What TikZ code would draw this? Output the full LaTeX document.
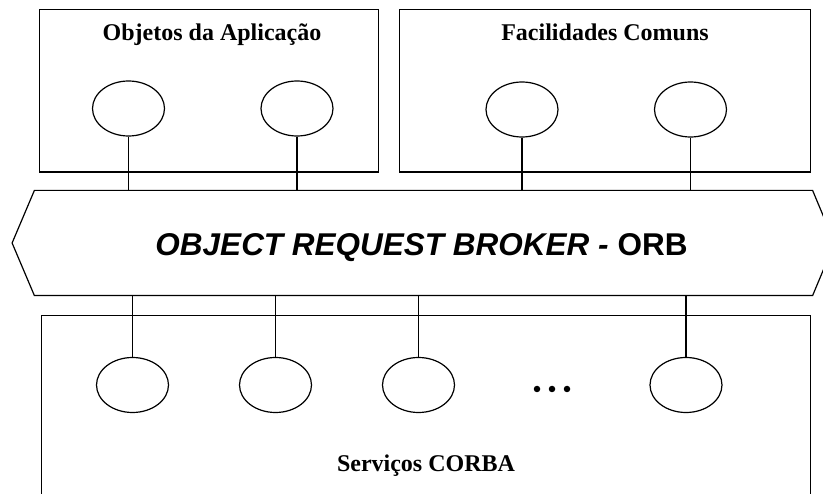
\documentclass[tikz,border=0pt]{standalone}
\usepackage{fontspec}
\setmainfont{Liberation Serif}
\newfontfamily\arialf{Liberation Sans}
\usetikzlibrary{shapes.geometric}
\begin{document}
\begin{tikzpicture}[x=1pt,y=-1pt,
  line width=1.2pt,
  boxnode/.style={draw, rectangle, inner sep=0pt},
  objnode/.style={draw, ellipse, minimum width=72pt, minimum height=55pt, inner sep=0pt},
  titlenode/.style={font=\fontsize{24}{28}\selectfont\bfseries, anchor=base, inner sep=0pt},
  conn/.style={line width=1.2pt},
  dotmark/.style={fill=black, circle, inner sep=0pt, minimum size=6.5pt}
]
\useasboundingbox (0,0) rectangle (823,494);
\clip (0,0) rectangle (823,494);
\fill[white] (0,0) rectangle (823,494);

% boxes
\node[boxnode, minimum width=339.4pt, minimum height=162.7pt] (app) at (209,90.65) {};
\node[boxnode, minimum width=411.4pt, minimum height=162.7pt] (fac) at (605,90.65) {};
\node[boxnode, minimum width=769pt, minimum height=204.3pt] (srv) at (426.2,417.85) {};

% titles
\node[titlenode] (tapp) at (212,40.5) {Objetos da Aplicação};
\node[titlenode] (tfac) at (605,40.5) {Facilidades Comuns};
\node[titlenode] (tsrv) at (426,471.7) {Serviços CORBA};

% ORB
\node[minimum width=777pt, minimum height=104pt, inner sep=0pt] (orb) at (423.5,243) {};
\draw[line join=miter] (orb.north west) -- (orb.north east) -- ([xshift=22pt]orb.east) -- (orb.south east)
  -- (orb.south west) -- ([xshift=-22.3pt]orb.west) -- cycle;
\node[anchor=base, inner sep=0pt, font=\arialf\fontsize{31.5}{36}\selectfont\bfseries] (orbtext) at (421.5,256)
  {\itshape OBJECT REQUEST BROKER - \upshape ORB};

% top objects
\node[objnode] (a1) at (128.5,108.5) {};
\node[objnode] (a2) at (297,108.5) {};
\node[objnode] (f1) at (522,109.5) {};
\node[objnode] (f2) at (690.5,109.5) {};
\foreach \n in {a1,a2,f1,f2}{
  \draw[conn] (\n.south) -- (\n.south |- orb.north);
}

% bottom objects
\node[objnode] (s1) at (132.5,385) {};
\node[objnode] (s2) at (275.5,385) {};
\node[objnode] (s3) at (418.5,385) {};
\node[objnode] (s4) at (686,385) {};
\foreach \n in {s1,s2,s3,s4}{
  \draw[conn] (\n.north) -- (\n.north |- orb.south);
}

% dots
\node[dotmark] (d1) at (537,389) {};
\node[dotmark] (d2) at (552,389) {};
\node[dotmark] (d3) at (567,389) {};
\end{tikzpicture}
\end{document}
